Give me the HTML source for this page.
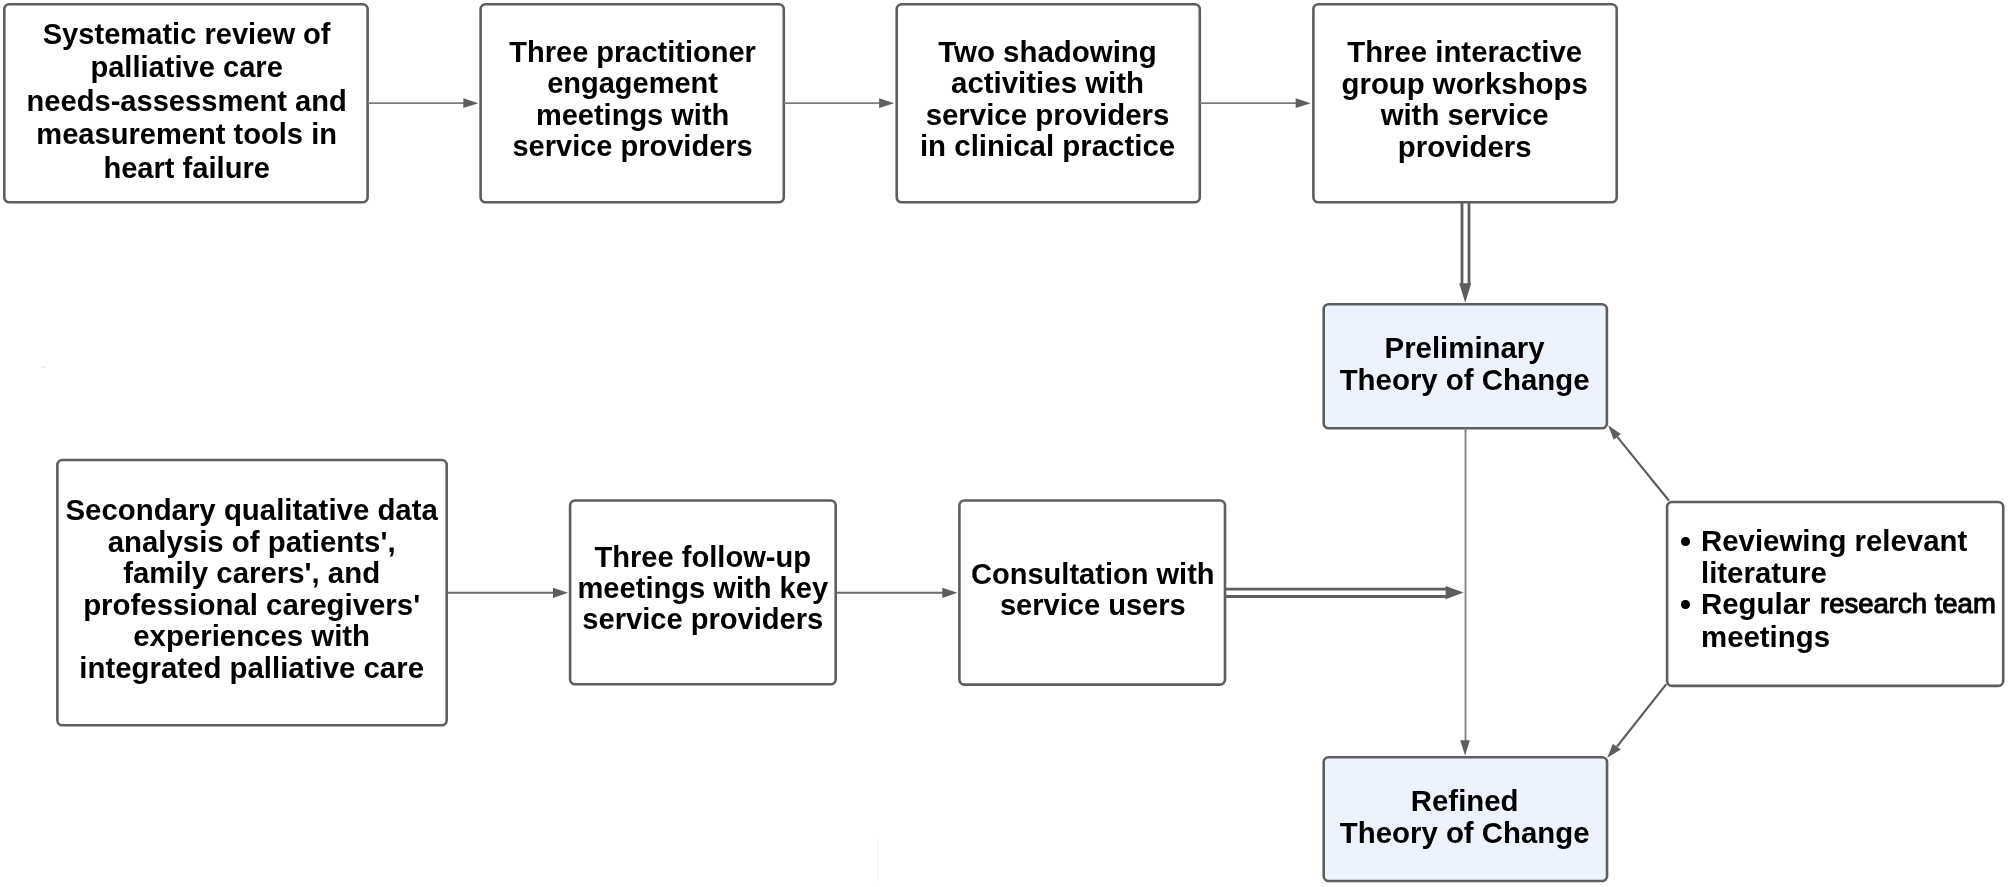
<!DOCTYPE html>
<html><head><meta charset="utf-8"><style>
html,body{margin:0;padding:0;background:#fff;}
body{width:2008px;height:887px;position:relative;overflow:hidden;}
svg{position:absolute;left:0;top:0;}
.t{position:absolute;will-change:transform;font-family:"Liberation Sans",sans-serif;font-weight:bold;font-size:29.2px;color:#000;text-align:center;white-space:nowrap;}
.dot{position:absolute;left:-19.8px;width:8.6px;height:8.6px;border-radius:50%;background:#000;}
.cal{display:inline-block;transform:translateY(-0.8px) scaleX(0.965);transform-origin:0 50%;font-size:28.5px;margin-left:1.5px;font-weight:normal;-webkit-text-stroke:1.1px #000}
</style></head><body>
<svg width="2008" height="887" viewBox="0 0 2008 887">
<rect x="4.3" y="4.3" width="363.3" height="197.9" rx="5" ry="5" fill="#fff" stroke="#5e5e5e" stroke-width="2.6"/>
<rect x="480.6" y="4.3" width="303.2" height="197.9" rx="5" ry="5" fill="#fff" stroke="#5e5e5e" stroke-width="2.6"/>
<rect x="896.7" y="4.3" width="303.1" height="197.9" rx="5" ry="5" fill="#fff" stroke="#5e5e5e" stroke-width="2.6"/>
<rect x="1313.4" y="4.3" width="303.3" height="197.9" rx="5" ry="5" fill="#fff" stroke="#5e5e5e" stroke-width="2.6"/>
<rect x="1323.7" y="304.2" width="283.2" height="124.0" rx="5" ry="5" fill="#edf3fe" stroke="#5e5e5e" stroke-width="2.6"/>
<rect x="57.4" y="460.0" width="389.3" height="265.25" rx="5" ry="5" fill="#fff" stroke="#5e5e5e" stroke-width="2.6"/>
<rect x="570.1" y="500.5" width="265.6" height="183.8" rx="5" ry="5" fill="#fff" stroke="#5e5e5e" stroke-width="2.6"/>
<rect x="959.4" y="500.55" width="265.6" height="184.05" rx="5" ry="5" fill="#fff" stroke="#5e5e5e" stroke-width="2.6"/>
<rect x="1667.1" y="502.0" width="336.1" height="183.9" rx="5" ry="5" fill="#fff" stroke="#5e5e5e" stroke-width="2.6"/>
<rect x="1323.7" y="757.2" width="283.35" height="123.8" rx="5" ry="5" fill="#edf3fe" stroke="#5e5e5e" stroke-width="2.6"/>
<line x1="367.6" y1="103.2" x2="464.3" y2="103.2" stroke="#7c7c7c" stroke-width="1.7"/>
<polygon points="463.3,98.3 478.3,103.2 463.3,108.10000000000001" fill="#5e5e5e"/>
<line x1="783.8" y1="103.2" x2="880.1" y2="103.2" stroke="#7c7c7c" stroke-width="1.7"/>
<polygon points="879.1,98.3 894.1,103.2 879.1,108.10000000000001" fill="#5e5e5e"/>
<line x1="1199.8" y1="103.2" x2="1296.7" y2="103.2" stroke="#7c7c7c" stroke-width="1.7"/>
<polygon points="1295.7,98.3 1310.7,103.2 1295.7,108.10000000000001" fill="#5e5e5e"/>
<line x1="446.7" y1="592.8" x2="554.0" y2="592.8" stroke="#6a6a6a" stroke-width="2.0"/>
<polygon points="553.0,587.6999999999999 568.0,592.8 553.0,597.9" fill="#5e5e5e"/>
<line x1="835.7" y1="592.8" x2="943.3" y2="592.8" stroke="#6a6a6a" stroke-width="2.0"/>
<polygon points="942.3,587.6999999999999 957.3,592.8 942.3,597.9" fill="#5e5e5e"/>
<line x1="1462" y1="202" x2="1462" y2="285" stroke="#5e5e5e" stroke-width="2.8"/>
<line x1="1469" y1="202" x2="1469" y2="285" stroke="#5e5e5e" stroke-width="2.8"/>
<polygon points="1459.2,283.3 1471.2,283.3 1465.2,302.8" fill="#5e5e5e"/>
<line x1="1225" y1="589.1" x2="1447" y2="589.1" stroke="#5e5e5e" stroke-width="2.8"/>
<line x1="1225" y1="596.5" x2="1447" y2="596.5" stroke="#5e5e5e" stroke-width="2.8"/>
<polygon points="1445.6,586.0 1463.6,592.6 1445.6,599.2" fill="#5e5e5e"/>
<line x1="1465.5" y1="428" x2="1465.5" y2="741" stroke="#7c7c7c" stroke-width="1.8"/>
<polygon points="1460.2,740.3 1469.9,740.3 1465.1,755.5" fill="#5e5e5e"/>
<line x1="1669" y1="500.7" x2="1617.3" y2="436.85" stroke="#5e5e5e" stroke-width="2.2"/>
<polygon points="1608.1,425.2 1613.7,439.8 1620.9,433.9" fill="#5e5e5e"/>
<line x1="1666.3" y1="684.1" x2="1616.85" y2="746.7" stroke="#5e5e5e" stroke-width="2.2"/>
<polygon points="1607.2,757.8 1612.8,743.9 1620.9,749.5" fill="#5e5e5e"/>
<rect x="41" y="366.3" width="5" height="1.2" fill="#e2e2e2"/>
<rect x="877.6" y="838.5" width="1" height="43" fill="#f3f3f3"/>
</svg>
<div class="t" style="left:4.60px;width:363.30px;top:17.54px;line-height:33.44px;font-size:29.1px">Systematic review of<br>palliative care<br>needs-assessment and<br>measurement tools in<br>heart failure</div>
<div class="t" style="left:480.60px;width:303.20px;top:37.40px;line-height:31.4px;font-size:29.0px">Three practitioner<br>engagement<br>meetings with<br>service providers</div>
<div class="t" style="left:896.40px;width:303.10px;top:36.30px;line-height:31.4px;font-size:29.45px">Two shadowing<br>activities with<br>service providers<br>in clinical practice</div>
<div class="t" style="left:1312.80px;width:303.30px;top:36.33px;line-height:31.5px;font-size:29.35px">Three interactive<br>group workshops<br>with service<br>providers</div>
<div class="t" style="left:1322.90px;width:283.20px;top:332.26px;line-height:31.5px;font-size:29.4px">Preliminary<br>Theory of Change</div>
<div class="t" style="left:57.10px;width:389.30px;top:493.53px;line-height:31.56px;font-size:29.4px">Secondary qualitative data<br>analysis of patients',<br>family carers', and<br>professional caregivers'<br>experiences with<br>integrated palliative care</div>
<div class="t" style="left:570.10px;width:265.60px;top:541.72px;line-height:31.0px;font-size:29.1px">Three follow-up<br>meetings with key<br>service providers</div>
<div class="t" style="left:960.10px;width:265.60px;top:558.88px;line-height:31.3px;font-size:29.05px">Consultation with<br>service users</div>
<div class="t" style="left:1322.90px;width:283.35px;top:785.46px;line-height:31.5px;font-size:29.4px">Refined<br>Theory of Change</div>
<div class="t bl" style="left:1701px;top:525.43px;line-height:31.57px;text-align:left;width:300px;font-size:29.4px">
<span class="dot" style="top:11.97px"></span><span class="dot" style="top:75.11px"></span>Reviewing relevant<br>literature<br>Regular <span class="cal">research team</span><br>meetings</div>
</body></html>
